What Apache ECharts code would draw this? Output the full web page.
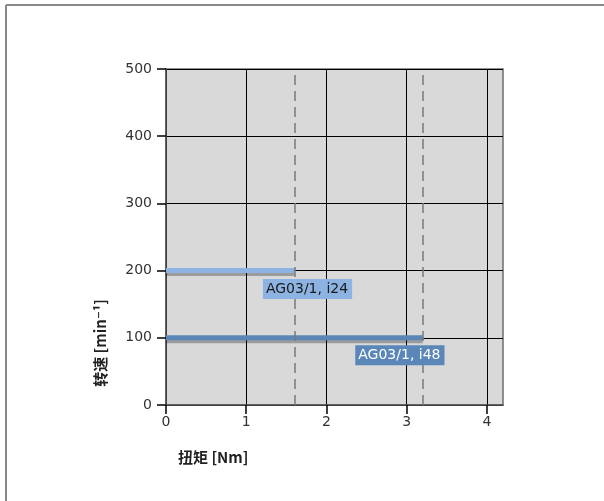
<!DOCTYPE html>
<html>
<head>
<meta charset="utf-8">
<script src="https://cdn.jsdelivr.net/npm/echarts@6/dist/echarts.min.js"></script>
<style>html,body{margin:0;padding:0;background:#fff}#c{width:604px;height:501px}</style>
</head>
<body>
<div id="c"></div>
<script>
var xTicks = [0, 1, 2, 3, 4];
var yTicks = [0, 100, 200, 300, 400, 500];
var seriesNames = ['AG03/1, i24', 'AG03/1, i48'];
var speedI24 = 200;
var torqueI24 = 1.6;
var speedI48 = 100;
var torqueI48 = 3.2;
var dashedLimits = [1.6, 3.2];

var font = 'DejaVu Sans';
var chart = echarts.init(document.getElementById('c'));
chart.setOption({
  animation: false,
  backgroundColor: '#fff',
  grid: { left: 166, right: 101, top: 69, bottom: 96, show: true, backgroundColor: '#d9d9d9', borderColor: '#6e6e6e', borderWidth: 1.5 },
  xAxis: {
    type: 'value', min: 0, max: 4.2, interval: 1,
    axisLine: { show: true, onZero: false, lineStyle: { color: '#555', width: 1.5 } },
    axisTick: { show: true, length: 9, customValues: xTicks, lineStyle: { color: '#000', width: 1.5 } },
    axisLabel: { customValues: xTicks, margin: 10, color: '#333', fontFamily: font, fontSize: 14 },
    splitLine: { show: true, lineStyle: { color: '#000', width: 1 } }
  },
  yAxis: {
    type: 'value', min: 0, max: 500, interval: 100,
    axisLine: { show: true, lineStyle: { color: '#555', width: 1.5 } },
    axisTick: { show: true, length: 9, lineStyle: { color: '#000', width: 1.5 } },
    axisLabel: { margin: 14, color: '#333', fontFamily: font, fontSize: 14, formatter: function (v) { return yTicks.indexOf(v) >= 0 ? String(v) : ''; } },
    splitLine: { show: true, lineStyle: { color: '#000', width: 1 } }
  },
  series: [
    {
      type: 'line', name: 'limits', data: [], silent: true,
      markLine: {
        symbol: 'none', silent: true, label: { show: false },
        lineStyle: { color: '#7a7a7a', width: 1.5, type: [10, 6] },
        data: dashedLimits.map(function (v) { return { xAxis: v }; })
      }
    },
    {
      type: 'line', name: seriesNames[1], symbol: 'none', z: 3,
      data: [[0, speedI48], [torqueI48, speedI48]],
      lineStyle: { color: '#5b87b8', width: 5, cap: 'butt', shadowColor: 'rgba(0,0,0,0.28)', shadowBlur: 0, shadowOffsetY: 3 }
    },
    {
      type: 'line', name: seriesNames[0], symbol: 'none', z: 3,
      data: [[0, speedI24], [torqueI24, speedI24]],
      lineStyle: { color: '#8db3e2', width: 5, cap: 'butt', shadowColor: 'rgba(0,0,0,0.28)', shadowBlur: 0, shadowOffsetY: 3 }
    },
    {
      type: 'scatter', symbolSize: 1, z: 5, silent: true,
      itemStyle: { color: 'rgba(0,0,0,0)', opacity: 1 },
      data: [
        { value: [torqueI24, speedI24], label: { show: true, formatter: seriesNames[0], position: [-31, 9], backgroundColor: '#8db3e2', color: '#1a1a1a' } },
        { value: [torqueI48, speedI48], label: { show: true, formatter: seriesNames[1], position: [-67, 8], backgroundColor: '#5b87b8', color: '#fff' } }
      ],
      label: { fontFamily: font, fontSize: 14, padding: [2, 4, 1, 3], lineHeight: 17, opacity: 1 }
    }
  ],
  graphic: [
    { type: 'line', shape: { x1: 6, y1: 5, x2: 604, y2: 5 }, style: { stroke: '#888', lineWidth: 2 } },
    { type: 'line', shape: { x1: 6, y1: 5, x2: 6, y2: 501 }, style: { stroke: '#888', lineWidth: 2 } },
    { type: 'text', x: 100, y: 343, rotation: Math.PI / 2, style: { text: '转速 [min⁻¹]', font: 'bold 15px "Noto Sans CJK SC", "DejaVu Sans"', fill: '#222', align: 'center', verticalAlign: 'middle' } },
    { type: 'text', x: 178, y: 457, style: { text: '扭矩 [Nm]', font: 'bold 15px "Noto Sans CJK SC", "DejaVu Sans"', fill: '#222', align: 'left', verticalAlign: 'middle' } }
  ]
});
</script>
</body>
</html>
